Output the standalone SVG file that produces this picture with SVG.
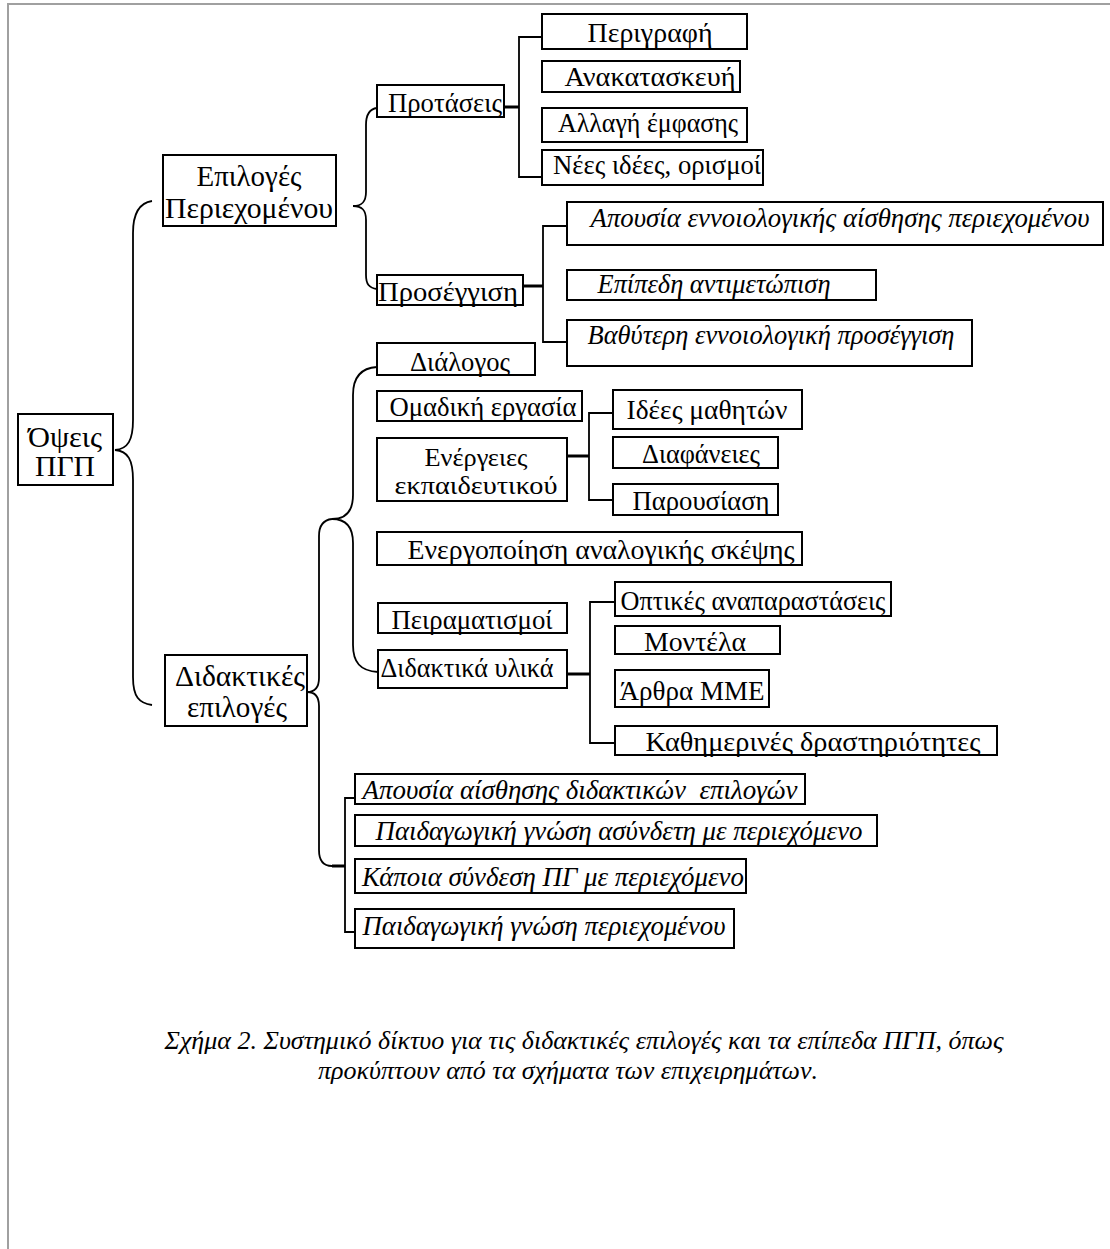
<svg xmlns="http://www.w3.org/2000/svg" width="1110" height="1249" viewBox="0 0 1110 1249">
<style>
  .box { fill: #ffffff; stroke: #000000; stroke-width: 2; }
  .t { font-family: "Liberation Serif", "Times New Roman", serif; font-size: 27px; fill: #000000; text-anchor: middle; }
  .big { font-size: 29px; }
  .sm { font-size: 26px; }
  .i { font-style: italic; font-size: 27px; }
  .c { fill: none; stroke: #000000; stroke-width: 1.8; }
  .stub { fill: none; stroke: #000000; stroke-width: 3; }
  .cap { font-family: "Liberation Serif", "Times New Roman", serif; font-size: 26px; font-style: italic; fill: #000000; text-anchor: middle; }
  .border { stroke: #a0a0a0; stroke-width: 2; fill: none; }
</style>
<rect x="0" y="0" width="1110" height="1249" fill="#ffffff"/>
<path class="border" d="M8,1249 L8,4 L1110,4"/>

<g id="connectors">
  <path class="c" d="M152,201 C139,203 133,213 133,233 L133,420 C133,440 128,449 115,450 C128,451 133,460 133,480 L133,677 C133,697 139,703 152,705"/>
  <path class="c" d="M377,108 C369,109 366,115 366,125 L366,192 C366,202 362,206 353,206 C362,206 366,210 366,220 L366,275 C366,284 369,288 377,289"/>
  <path class="c" d="M377,367 C360,368 353,378 353,395 L353,495 C353,512 345,519 332,519 C345,519 353,526 353,543 L353,645 C353,662 360,671 378,672"/>
  <path class="c" d="M332,519 C323,520 319,526 319,536 L319,678 C319,688 315,692 307,692 C315,692 319,696 319,706 L319,850 C319,861 323,866 332,866"/>
  <path class="stub" d="M504,107 L519,107"/>
  <path class="c" d="M542,37 L519,37 L519,177 L542,177"/>
  <path class="stub" d="M523,286 L543,286"/>
  <path class="c" d="M567,226 L543,226 L543,342 L567,342"/>
  <path class="stub" d="M567,456 L589,456"/>
  <path class="c" d="M613,413 L589,413 L589,500 L613,500"/>
  <path class="stub" d="M567,674 L590,674"/>
  <path class="c" d="M615,602 L590,602 L590,743 L615,743"/>
  <path class="stub" d="M332,866 L345,866"/>
  <path class="c" d="M355,798 L345,798 L345,932 L355,932"/>
</g>

<g id="n-opseis"><rect class="box" x="18" y="414" width="95" height="71"/><text class="t big" x="65" y="447" textLength="74" lengthAdjust="spacingAndGlyphs">Όψεις</text><text class="t big" x="65" y="476" textLength="60" lengthAdjust="spacingAndGlyphs">ΠΓΠ</text></g>
<g id="n-epiloges-periexomenou"><rect class="box" x="163" y="155" width="173" height="71"/><text class="t big" x="249" y="186" textLength="105" lengthAdjust="spacingAndGlyphs">Επιλογές</text><text class="t big" x="249" y="218" textLength="168" lengthAdjust="spacingAndGlyphs">Περιεχομένου</text></g>
<g id="n-protaseis"><rect class="box" x="377" y="85" width="127" height="32"/><text class="t" x="445" y="112" textLength="114" lengthAdjust="spacingAndGlyphs">Προτάσεις</text></g>
<g id="n-perigrafi"><rect class="box" x="542" y="14" width="205" height="35"/><text class="t" x="650" y="42" textLength="125" lengthAdjust="spacingAndGlyphs">Περιγραφή</text></g>
<g id="n-anakataskevi"><rect class="box" x="542" y="61" width="198" height="31"/><text class="t" x="650" y="86" textLength="171" lengthAdjust="spacingAndGlyphs">Ανακατασκευή</text></g>
<g id="n-allagi"><rect class="box" x="542" y="108" width="205" height="34"/><text class="t" x="648" y="132" textLength="180" lengthAdjust="spacingAndGlyphs">Αλλαγή έμφασης</text></g>
<g id="n-nees"><rect class="box" x="542" y="150" width="221" height="35"/><text class="t" x="657" y="174" textLength="208" lengthAdjust="spacingAndGlyphs">Νέες ιδέες, ορισμοί</text></g>
<g id="n-prosengisi"><rect class="box" x="377" y="275" width="146" height="30"/><text class="t" x="448" y="301" textLength="140" lengthAdjust="spacingAndGlyphs">Προσέγγιση</text></g>
<g id="n-apousia-ennoiol"><rect class="box" x="567" y="202" width="536" height="43"/><text class="t i" x="840" y="227" textLength="499" lengthAdjust="spacingAndGlyphs">Απουσία εννοιολογικής αίσθησης περιεχομένου</text></g>
<g id="n-epipedi"><rect class="box" x="567" y="270" width="309" height="30"/><text class="t i" x="714" y="293" textLength="233" lengthAdjust="spacingAndGlyphs">Επίπεδη αντιμετώπιση</text></g>
<g id="n-vathyteri"><rect class="box" x="567" y="320" width="405" height="46"/><text class="t i" x="771" y="344" textLength="367" lengthAdjust="spacingAndGlyphs">Βαθύτερη εννοιολογική προσέγγιση</text></g>
<g id="n-didaktikes"><rect class="box" x="165" y="655" width="142" height="71"/><text class="t big" x="240" y="686" textLength="130" lengthAdjust="spacingAndGlyphs">Διδακτικές</text><text class="t big" x="237" y="717" textLength="100" lengthAdjust="spacingAndGlyphs">επιλογές</text></g>
<g id="n-dialogos"><rect class="box" x="377" y="343" width="158" height="32"/><text class="t" x="460" y="371" textLength="100" lengthAdjust="spacingAndGlyphs">Διάλογος</text></g>
<g id="n-omadiki"><rect class="box" x="377" y="391" width="205" height="30"/><text class="t" x="483" y="416" textLength="187" lengthAdjust="spacingAndGlyphs">Ομαδική εργασία</text></g>
<g id="n-energeies"><rect class="box" x="377" y="438" width="190" height="63"/><text class="t sm" x="476" y="466" textLength="103" lengthAdjust="spacingAndGlyphs">Ενέργειες</text><text class="t sm" x="476" y="494" textLength="163" lengthAdjust="spacingAndGlyphs">εκπαιδευτικού</text></g>
<g id="n-idees"><rect class="box" x="613" y="390" width="189" height="39"/><text class="t" x="707" y="419" textLength="161" lengthAdjust="spacingAndGlyphs">Ιδέες μαθητών</text></g>
<g id="n-diafaneies"><rect class="box" x="613" y="437" width="165" height="31"/><text class="t" x="701" y="463" textLength="118" lengthAdjust="spacingAndGlyphs">Διαφάνειες</text></g>
<g id="n-parousiasi"><rect class="box" x="613" y="484" width="165" height="31"/><text class="t" x="701" y="510" textLength="137" lengthAdjust="spacingAndGlyphs">Παρουσίαση</text></g>
<g id="n-energopoiisi"><rect class="box" x="377" y="532" width="425" height="33"/><text class="t" x="601" y="559" textLength="387" lengthAdjust="spacingAndGlyphs">Ενεργοποίηση αναλογικής σκέψης</text></g>
<g id="n-peiramatismoi"><rect class="box" x="378" y="603" width="189" height="30"/><text class="t" x="472" y="629" textLength="161" lengthAdjust="spacingAndGlyphs">Πειραματισμοί</text></g>
<g id="n-didaktika-ylika"><rect class="box" x="378" y="650" width="189" height="38"/><text class="t" x="467" y="677" textLength="173" lengthAdjust="spacingAndGlyphs">Διδακτικά υλικά</text></g>
<g id="n-optikes"><rect class="box" x="615" y="582" width="276" height="34"/><text class="t" x="753" y="610" textLength="265" lengthAdjust="spacingAndGlyphs">Οπτικές αναπαραστάσεις</text></g>
<g id="n-montela"><rect class="box" x="615" y="626" width="165" height="28"/><text class="t" x="695" y="651" textLength="102" lengthAdjust="spacingAndGlyphs">Μοντέλα</text></g>
<g id="n-arthra"><rect class="box" x="615" y="670" width="154" height="37"/><text class="t" x="692" y="700" textLength="145" lengthAdjust="spacingAndGlyphs">Άρθρα ΜΜΕ</text></g>
<g id="n-kathimerines"><rect class="box" x="615" y="726" width="382" height="29"/><text class="t" x="813" y="751" textLength="335" lengthAdjust="spacingAndGlyphs">Καθημερινές δραστηριότητες</text></g>
<g id="n-apousia-didakt"><rect class="box" x="355" y="774" width="450" height="30"/><text class="t i" x="580" y="799" textLength="435" lengthAdjust="spacingAndGlyphs" xml:space="preserve">Απουσία αίσθησης διδακτικών  επιλογών</text></g>
<g id="n-asyndeti"><rect class="box" x="355" y="815" width="522" height="31"/><text class="t i" x="619" y="840" textLength="487" lengthAdjust="spacingAndGlyphs">Παιδαγωγική γνώση ασύνδετη με περιεχόμενο</text></g>
<g id="n-kapoia"><rect class="box" x="355" y="859" width="391" height="34"/><text class="t i" x="553" y="886" textLength="382" lengthAdjust="spacingAndGlyphs">Κάποια σύνδεση ΠΓ με περιεχόμενο</text></g>
<g id="n-pgp"><rect class="box" x="355" y="909" width="379" height="39"/><text class="t i" x="544" y="935" textLength="363" lengthAdjust="spacingAndGlyphs">Παιδαγωγική γνώση περιεχομένου</text></g>

<g id="caption">
  <text class="cap" x="584" y="1049">Σχήμα 2. Συστημικό δίκτυο για τις διδακτικές επιλογές και τα επίπεδα ΠΓΠ, όπως</text>
  <text class="cap" x="568" y="1079">προκύπτουν από τα σχήματα των επιχειρημάτων.</text>
</g>
</svg>
